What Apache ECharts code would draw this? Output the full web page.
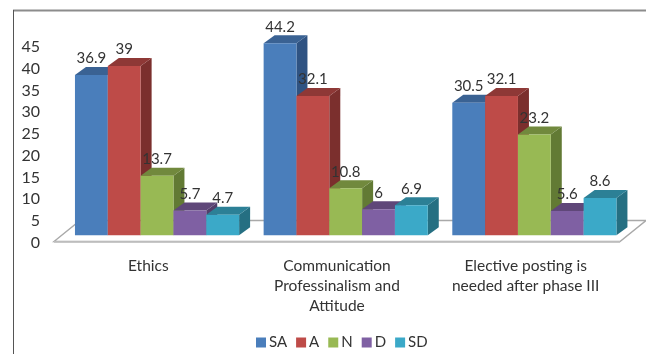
<!DOCTYPE html>
<html>
<head>
<meta charset="utf-8">
<style>html,body{margin:0;padding:0;background:#fff}#chart{width:646px;height:354px}</style>
<script src="https://cdn.jsdelivr.net/npm/echarts@6/dist/echarts.min.js"></script>
</head>
<body>
<div id="chart"></div>
<script>
const categories = ['Ethics', 'Communication\nProfessinalism and\nAttitude', 'Elective posting is\nneeded after phase III'];
const SA = [36.9, 44.2, 30.5];
const A = [39, 32.1, 32.1];
const N = [13.7, 10.8, 23.2];
const D = [5.7, 6, 5.6];
const SD = [4.7, 6.9, 8.6];

const FONT = 'Lato, "Open Sans", sans-serif';
const TEXT = '#333333';
// Oblique projection: how far bar fronts sit from the axis plane, and the bar depth.
const PLANE = [8.7, -7.3];
const DEPTH = [11, -8];
const FLOOR_BACK = [26, -21];
const BAR_SHARE = 0.174;

const palette = [
  { name: 'SA', values: SA, front: '#4a7ebb', top: '#3a6293', side: '#2f5382' },
  { name: 'A', values: A, front: '#be4b48', top: '#8e3836', side: '#7b2f2d' },
  { name: 'N', values: N, front: '#98b954', top: '#71893d', side: '#627a34' },
  { name: 'D', values: D, front: '#7f60a3', top: '#5f4779', side: '#523d6a' },
  { name: 'SD', values: SD, front: '#3ba9c8', top: '#2c8096', side: '#256f82' }
];

function renderFloor(params) {
  const g = params.coordSys;
  const y = g.y + g.height - 1;
  const x0 = g.x, x1 = g.x + g.width;
  return {
    type: 'group',
    silent: true,
    children: [{
      type: 'polygon',
      shape: { points: [[x0, y], [x1, y], [x1 + FLOOR_BACK[0], y + FLOOR_BACK[1]], [x0 + FLOOR_BACK[0], y + FLOOR_BACK[1]]] },
      style: { fill: '#fff', stroke: '#a9a9a9', lineWidth: 1.4 }
    }, {
      type: 'rect',
      shape: { x: x0, y: y - 0.5, width: g.width, height: 1.8 },
      style: { fill: '#bdbdbd' }
    }]
  };
}

function makeBarRenderer(idx, c) {
  return function (params, api) {
    const cat = api.value(0);
    const val = api.value(1);
    const base = api.coord([cat, 0]);
    const head = api.coord([cat, val]);
    const w = api.size([1, 0])[0] * BAR_SHARE;
    const x0 = base[0] + PLANE[0] + (idx - 2.5) * w;
    const x1 = x0 + w;
    const yb = base[1] + PLANE[1];
    const yt = head[1] + PLANE[1];
    const dx = DEPTH[0], dy = DEPTH[1];
    return {
      type: 'group',
      children: [{
        type: 'polygon',
        shape: { points: [[x1, yt], [x1 + dx, yt + dy], [x1 + dx, yb + dy], [x1, yb]] },
        style: { fill: c.side }
      }, {
        type: 'polygon',
        shape: { points: [[x0, yt], [x0 + dx, yt + dy], [x1 + dx, yt + dy], [x1, yt]] },
        style: { fill: c.top }
      }, {
        type: 'rect',
        shape: { x: x0, y: yt, width: w, height: yb - yt },
        style: { fill: c.front }
      }, {
        type: 'text',
        z2: 100,
        style: {
          x: x0 + w / 2, y: yt - 16.5,
          text: String(val),
          fill: TEXT, font: '15px ' + FONT,
          align: 'center', verticalAlign: 'middle'
        }
      }]
    };
  };
}

const chart = echarts.init(document.getElementById('chart'), null, { renderer: 'canvas' });
chart.setOption({
  animation: false,
  backgroundColor: '#fff',
  graphic: [
    { type: 'line', silent: true, shape: { x1: 13, y1: 10.5, x2: 646, y2: 10.5 }, style: { stroke: '#8c8c8c', lineWidth: 2 } },
    { type: 'line', silent: true, shape: { x1: 13.5, y1: 10, x2: 13.5, y2: 354 }, style: { stroke: '#555', lineWidth: 1 } }
  ],
  grid: { left: 54, top: 47.2, width: 566, height: 195.3 },
  legend: {
    left: 256, top: 335, padding: 0, icon: 'rect', itemWidth: 10, itemHeight: 10, itemGap: 9,
    textStyle: { fontFamily: FONT, fontSize: 15, color: TEXT, padding: [0, 0, 0, -2] },
    data: palette.map(c => c.name)
  },
  xAxis: {
    type: 'category', data: categories,
    axisLine: { show: false }, axisTick: { show: false },
    axisLabel: { interval: 0, margin: 13, fontFamily: FONT, fontSize: 15.5, lineHeight: 20, color: TEXT, verticalAlign: 'top' }
  },
  yAxis: {
    type: 'value', min: 0, max: 45, interval: 5,
    axisLine: { show: false }, axisTick: { show: false }, splitLine: { show: false },
    axisLabel: { margin: 14, fontFamily: FONT, fontSize: 16, color: TEXT }
  },
  series: [
    { type: 'custom', name: 'floor', data: [[0, 0]], encode: { x: 0, y: 1 }, renderItem: renderFloor, silent: true, z: 1 }
  ].concat(palette.map((c, idx) => ({
    type: 'custom',
    name: c.name,
    itemStyle: { color: c.front },
    encode: { x: 0, y: 1 },
    data: categories.map((_, i) => [i, c.values[i]]),
    renderItem: makeBarRenderer(idx, c),
    z: 2
  })))
});
</script>
</body>
</html>
